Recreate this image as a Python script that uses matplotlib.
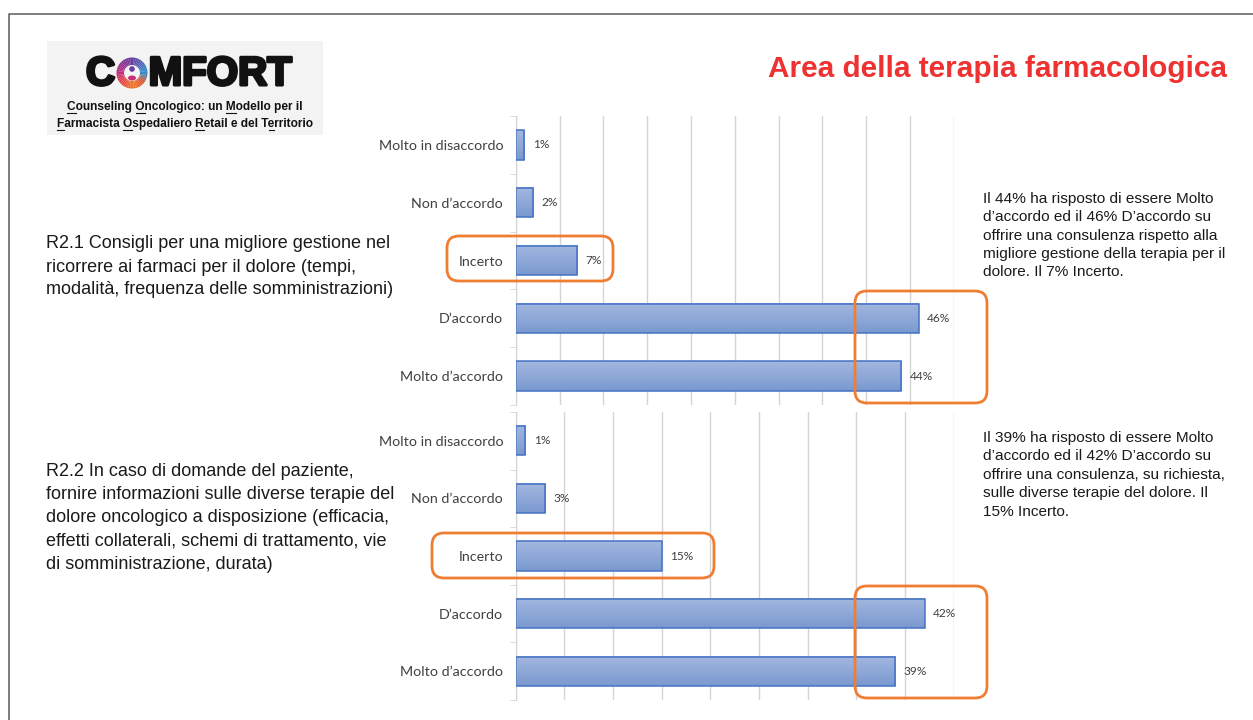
import numpy as np
import matplotlib
matplotlib.use('Agg')
import matplotlib.pyplot as plt
import matplotlib.patheffects as pe
from matplotlib.patches import FancyBboxPatch, Wedge, Circle, Rectangle, Ellipse
from matplotlib.lines import Line2D
from matplotlib.colors import LinearSegmentedColormap
from matplotlib.font_manager import FontProperties

# risposte (%) per le due domande
categorie = ["Molto in disaccordo", "Non d’accordo", "Incerto", "D’accordo", "Molto d’accordo"]
r21_valori = [1, 2, 7, 46, 44]
r22_valori = [1, 3, 15, 42, 39]
r21_xmax = 50
r22_xmax = 45

titolo = "Area della terapia farmacologica"
r21_domanda = ["R2.1 Consigli per una migliore gestione nel",
               "ricorrere ai farmaci per il dolore (tempi,",
               "modalità, frequenza delle somministrazioni)"]
r22_domanda = ["R2.2 In caso di domande del paziente,",
               "fornire informazioni sulle diverse terapie del",
               "dolore oncologico a disposizione (efficacia,",
               "effetti collaterali, schemi di trattamento, vie",
               "di somministrazione, durata)"]
r21_commento = ["Il 44% ha risposto di essere Molto",
                "d’accordo ed il 46% D’accordo su",
                "offrire una consulenza rispetto alla",
                "migliore gestione della terapia per il",
                "dolore. Il 7% Incerto."]
r22_commento = ["Il 39% ha risposto di essere Molto",
                "d’accordo ed il 42% D’accordo su",
                "offrire una consulenza, su richiesta,",
                "sulle diverse terapie del dolore. Il",
                "15% Incerto."]
logo_righe = ["Counseling Oncologico: un Modello per il",
              "Farmacista Ospedaliero Retail e del Territorio"]

W, H = 1253, 720
fig = plt.figure(figsize=(W / 100, H / 100), dpi=100)
P = fig.dpi_scale_trans


def pt(x, y):
    return x / 100, (H - y) / 100


def testo(x, y, s, **kw):
    return fig.text(*pt(x, y), s, transform=P, **kw)


grad_cmap = LinearSegmentedColormap.from_list('barra', ['#a2b7df', '#7b99d0'])


def pannello(top, bottom, valori, xmax):
    ax = fig.add_axes([515.7 / W, 1 - bottom / H, (953.7 - 515.7) / W, (bottom - top) / H])
    pos = np.arange(len(categorie))
    bars = ax.barh(pos, valori, height=0.51, facecolor='none', edgecolor='#4472c4',
                   linewidth=1.1, zorder=3)
    grad = np.linspace(0, 1, 32).reshape(-1, 1)
    for b in bars:
        x0, y0 = b.get_x(), b.get_y()
        ax.imshow(grad, cmap=grad_cmap, aspect='auto', zorder=2,
                  extent=(x0, x0 + b.get_width(), y0 + b.get_height(), y0))
    for p, v in zip(pos, valori):
        ax.annotate(f"{v}%", xy=(v, p), xytext=(6, 0), textcoords='offset points',
                    va='center', ha='left', fontsize=8.6, family='Lato', color='#404040')
    ax.set_xlim(0, xmax)
    ax.set_ylim(len(pos) - 0.5, -0.5)
    ax.set_xticks(np.arange(0, xmax + 1, 5))
    ax.xaxis.grid(True, color='#d4d4d4', lw=1)
    ax.set_axisbelow(True)
    ax.tick_params(axis='x', length=0, labelbottom=False)
    for s in ['top', 'right', 'bottom']:
        ax.spines[s].set_visible(False)
    ax.spines['left'].set_color('#d4d4d4')
    ax.set_yticks(pos)
    ax.set_yticklabels(categorie, family='Lato', fontsize=10.3, color='#404040')
    ax.tick_params(axis='y', length=0, pad=9)
    ax.set_yticks(np.arange(-0.5, len(pos)), minor=True)
    ax.tick_params(axis='y', which='minor', length=4, color='#d4d4d4')
    ax.patch.set_alpha(0)
    return ax


pannello(116, 405, r21_valori, r21_xmax)
pannello(412, 700, r22_valori, r22_xmax)

# cornice esterna
fig.add_artist(Line2D([0.09, 0.09, W / 100], [0, (H - 14) / 100, (H - 14) / 100],
                      transform=P, color='#5a5a5a', lw=1.1))

# titolo
testo(1227, 69, titolo, ha='right', va='center', fontsize=21.4, fontweight='bold',
      family='Liberation Sans', color='#ee3131')

# domande a sinistra
for i, riga in enumerate(r21_domanda):
    testo(46, 244 + 23 * i, riga, va='center', fontsize=13, family='Liberation Sans', color='#1a1a1a')
for i, riga in enumerate(r22_domanda):
    testo(46, 471 + 23.3 * i, riga, va='center', fontsize=13, family='Liberation Sans', color='#1a1a1a')

# commenti a destra
for i, riga in enumerate(r21_commento):
    testo(983, 199 + 18.3 * i, riga, va='center', fontsize=11.1, family='Liberation Sans', color='#1a1a1a')
for i, riga in enumerate(r22_commento):
    testo(983, 438 + 18.5 * i, riga, va='center', fontsize=11.1, family='Liberation Sans', color='#1a1a1a')

# riquadri arancioni
for x0, y0, x1, y1 in [(447, 236, 613, 281), (855, 291, 987, 403),
                       (432, 533, 714, 578), (855, 586, 987, 698)]:
    fig.add_artist(FancyBboxPatch(pt(x0, y1), (x1 - x0) / 100, (y1 - y0) / 100,
                                  boxstyle='round,pad=0,rounding_size=0.12', transform=P,
                                  fill=False, ec='#ef7d32', lw=2, zorder=5))

# logo COMFORT
fig.add_artist(Rectangle(pt(47, 135), 2.76, 0.94, transform=P, fc='#f3f3f3', ec='none', zorder=0))
spesso = [pe.withStroke(linewidth=2.2, foreground='#111111')]
testo(86, 74, "C", va='center', ha='left', fontsize=29, fontweight='bold', family='Liberation Sans',
      color='#111111', path_effects=spesso)
testo(292, 74, "MFORT", va='center', ha='right', fontsize=29, fontweight='bold', family='Liberation Sans',
      color='#111111', path_effects=spesso)
anello = ['#2c8fd0', '#4f5fb5', '#6a3c9c', '#8a3192', '#c92f78', '#e8463c', '#f07a2c', '#e0562f', '#2c8fd0']
ring_cmap = LinearSegmentedColormap.from_list('anello', anello)
cx, cy = pt(132, 73)
for k in range(48):
    a0 = k * 7.5
    fig.add_artist(Wedge((cx, cy), 0.155, a0, a0 + 7.6, width=0.075, transform=P,
                         fc=ring_cmap(k / 48), ec='none'))
fig.add_artist(Circle(pt(132, 69), 0.028, transform=P, fc='#6a3c9c', ec='none'))
fig.add_artist(Ellipse(pt(132, 78), 0.08, 0.05, transform=P, fc='#c92f78', ec='none'))

fp_logo = FontProperties(family='Liberation Sans', weight='bold', size=8.6)
renderer = fig.canvas.get_renderer()
sottolineate = [[0, 11, 26], [0, 11, 23, 37]]
for riga, y, idxs in zip(logo_righe, [107, 124], sottolineate):
    testo(185, y, riga, ha='center', va='center', fontproperties=fp_logo, color='#111111')
    tot = renderer.get_text_width_height_descent(riga, fp_logo, ismath=False)[0]
    left = 185 - tot / 2
    for i in idxs:
        xa = left + renderer.get_text_width_height_descent(riga[:i], fp_logo, ismath=False)[0] if i else left
        xb = left + renderer.get_text_width_height_descent(riga[:i + 1], fp_logo, ismath=False)[0]
        fig.add_artist(Line2D([xa / 100, xb / 100], [(H - y - 5.5) / 100] * 2, transform=P,
                              color='#111111', lw=0.8))

fig.savefig('out.png', dpi=100)
